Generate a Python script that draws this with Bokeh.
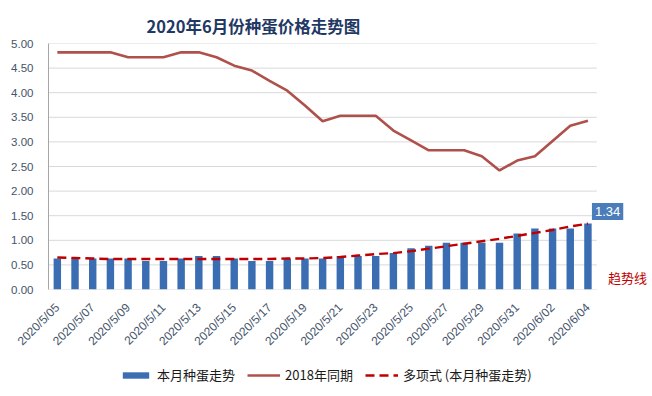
import math
from bokeh.plotting import figure
from bokeh.layouts import column
from bokeh.models import (Range1d, FixedTicker, NumeralTickFormatter, Legend,
                          LegendItem, Label, ColumnDataSource)
from bokeh.embed import file_html
from bokeh.resources import INLINE

dates = ["2020/5/05", "2020/5/06", "2020/5/07", "2020/5/08", "2020/5/09",
         "2020/5/10", "2020/5/11", "2020/5/12", "2020/5/13", "2020/5/14",
         "2020/5/15", "2020/5/16", "2020/5/17", "2020/5/18", "2020/5/19",
         "2020/5/20", "2020/5/21", "2020/5/22", "2020/5/23", "2020/5/24",
         "2020/5/25", "2020/5/26", "2020/5/27", "2020/5/28", "2020/5/29",
         "2020/5/30", "2020/5/31", "2020/6/01", "2020/6/02", "2020/6/03",
         "2020/6/04"]

price_2020 = [0.63, 0.63, 0.63, 0.63, 0.63, 0.58, 0.58, 0.63, 0.68, 0.68,
              0.63, 0.58, 0.58, 0.63, 0.63, 0.63, 0.68, 0.68, 0.68, 0.74,
              0.84, 0.89, 0.95, 0.95, 0.95, 0.95, 1.14, 1.24, 1.24, 1.24,
              1.34]

price_2018 = [4.82, 4.82, 4.82, 4.82, 4.72, 4.72, 4.72, 4.82, 4.82, 4.72,
              4.55, 4.45, 4.24, 4.04, 3.74, 3.42, 3.53, 3.53, 3.53, 3.23,
              3.03, 2.83, 2.83, 2.83, 2.71, 2.42, 2.62, 2.71, 3.02, 3.33,
              3.43]

trend = [0.65, 0.64, 0.63, 0.62, 0.62, 0.62, 0.62, 0.62, 0.62, 0.62,
         0.62, 0.62, 0.62, 0.63, 0.63, 0.64, 0.66, 0.69, 0.72, 0.74,
         0.78, 0.83, 0.88, 0.93, 0.98, 1.03, 1.09, 1.15, 1.21, 1.28,
         1.34]

y_ticks = [0.0, 0.5, 1.0, 1.5, 2.0, 2.5, 3.0, 3.5, 4.0, 4.5, 5.0]

title_text = "2020年6月份种蛋价格走势图"
series_names = ["本月种蛋走势", "2018年同期", "多项式 (本月种蛋走势)"]
trend_note = "趋势线"

BAR_COLOR = "#3a6db2"
LINE18_COLOR = "#b0504b"
TREND_COLOR = "#c00000"
CJK = "Noto Sans CJK SC"

n = len(dates)
idx = list(range(n))
src = ColumnDataSource(dict(x=idx, d=dates, p20=price_2020, p18=price_2018, tr=trend))
grid_src = ColumnDataSource(dict(y=y_ticks, x0=[-0.5] * len(y_ticks),
                                 x1=[n - 0.5] * len(y_ticks)))

# main chart; the frame runs to the right edge so the value box and note fit
p = figure(width=652, height=357, output_backend="svg", toolbar_location=None,
           x_range=Range1d(-0.5, n - 0.5 + 3.15), y_range=Range1d(0, 5),
           min_border_left=48, min_border_right=0, min_border_top=43,
           min_border_bottom=68)
p.outline_line_color = None
p.background_fill_color = "white"
p.border_fill_color = "white"

p.title.text = title_text
p.title.text_font = CJK
p.title.text_font_style = "bold"
p.title.text_font_size = "16.5px"
p.title.text_color = "#1f3864"
p.title.align = "left"
p.title.offset = 98
p.title.standoff = 11

p.segment(x0="x0", x1="x1", y0="y", y1="y", source=grid_src,
          line_color="#d9d9d9", line_width=1)

p.vbar(x="x", top="p20", width=0.42, source=src,
       fill_color=BAR_COLOR, line_color=None)
p.line(x="x", y="p18", source=src, line_color=LINE18_COLOR, line_width=2.6)
p.line(x="x", y="tr", source=src, line_color=TREND_COLOR, line_width=2.4,
       line_dash="9 5")

p.xgrid.grid_line_color = None
p.ygrid.grid_line_color = None

p.yaxis.ticker = FixedTicker(ticks=y_ticks)
p.yaxis.formatter = NumeralTickFormatter(format="0.00")
p.yaxis.axis_line_color = "#a6a6a6"
p.yaxis.major_tick_line_color = None
p.yaxis.minor_tick_line_color = None
p.yaxis.major_label_text_font = "Liberation Sans"
p.yaxis.major_label_text_font_size = "11.5px"
p.yaxis.major_label_text_color = "#44546a"
p.yaxis.major_label_standoff = 9

p.xaxis.ticker = FixedTicker(ticks=idx[::2])
p.xaxis.major_label_overrides = {i: dates[i] for i in idx[::2]}
p.xaxis.major_label_orientation = math.pi / 4
p.xaxis.axis_line_color = None
p.xaxis.major_tick_line_color = None
p.xaxis.minor_tick_line_color = None
p.xaxis.major_label_text_font = "Liberation Sans"
p.xaxis.major_label_text_font_size = "12px"
p.xaxis.major_label_text_color = "#44546a"
p.xaxis.major_label_standoff = 10

last = n - 1
p.add_layout(Label(x=last, y=price_2020[last], x_offset=4, y_offset=12,
                   text=f"{price_2020[last]:.2f}", text_align="left",
                   text_baseline="middle", text_color="white",
                   text_font="Liberation Sans", text_font_size="13px",
                   background_fill_color="#4a7dba", padding=(3, 4)))
p.add_layout(Label(x=last, y=0, x_offset=20, y_offset=12, text=trend_note,
                   text_align="left", text_baseline="middle",
                   text_color=TREND_COLOR, text_font=CJK, text_font_size="13px"))

# legend strip below the chart (its renderers lie outside its visible range)
lg = figure(width=652, height=39, output_backend="svg", toolbar_location=None,
            x_range=Range1d(-100, -99), y_range=Range1d(0, 5),
            x_axis_type=None, y_axis_type=None,
            min_border_left=0, min_border_right=0, min_border_top=0,
            min_border_bottom=0)
lg.outline_line_color = None
lg.xgrid.grid_line_color = None
lg.ygrid.grid_line_color = None
r_bar = lg.vbar(x="x", top="p20", width=0.42, source=src,
                fill_color=BAR_COLOR, line_color=None)
r_18 = lg.line(x="x", y="p18", source=src, line_color=LINE18_COLOR, line_width=2.6)
r_tr = lg.line(x="x", y="tr", source=src, line_color=TREND_COLOR, line_width=2.4,
               line_dash="9 5")

legend = Legend(items=[LegendItem(label=series_names[0], renderers=[r_bar]),
                       LegendItem(label=series_names[1], renderers=[r_18]),
                       LegendItem(label=series_names[2], renderers=[r_tr])],
                orientation="horizontal", location=(71, 12),
                glyph_width=33, glyph_height=8, label_standoff=5, spacing=12,
                padding=0, margin=0, border_line_color=None,
                background_fill_alpha=0,
                label_text_font=CJK, label_text_font_size="13px",
                label_text_color="#1a1a1a")
lg.add_layout(legend, "center")

layout = column(p, lg, spacing=0)
open("out.html", "w").write(file_html(layout, INLINE))
